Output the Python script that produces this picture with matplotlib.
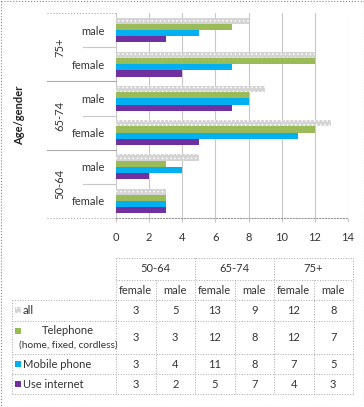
import numpy as np
import matplotlib
matplotlib.use('Agg')
import matplotlib.pyplot as plt
from matplotlib.lines import Line2D
from matplotlib.patches import Rectangle

plt.rcParams['font.family'] = ['Lato', 'DejaVu Sans']
plt.rcParams['hatch.linewidth'] = 0.6

groups = ['50-64', '65-74', '75+']
genders = ['female', 'male']
all_vals = [3, 5, 13, 9, 12, 8]
telephone = [3, 3, 12, 8, 12, 7]
mobile = [3, 4, 11, 8, 7, 5]
internet = [3, 2, 5, 7, 4, 3]

series_names = ['all', 'Telephone\n(home, fixed, cordless)', 'Mobile phone', 'Use internet']
series_vals = [all_vals, telephone, mobile, internet]
colors = ['#d4d4d4', '#9bbb59', '#00b0f0', '#7030a0']
hatches = ['....', None, None, None]

W, H = 364, 407
fig = plt.figure(figsize=(W / 100, H / 100), dpi=100)

# chart axes, placed in pixels
x0, x1, y0, y1 = 116, 348, 13, 218
ax = fig.add_axes([x0 / W, 1 - y1 / H, (x1 - x0) / W, (y1 - y0) / H])

n = len(all_vals)
y = np.arange(n)
bh = 0.18
offsets = [1.5 * bh, 0.5 * bh, -0.5 * bh, -1.5 * bh]
for vals, c, h, off in zip(series_vals, colors, hatches, offsets):
    if h:
        ax.barh(y + off, vals, height=bh, color=c, edgecolor='white', hatch=h, linewidth=0)
    else:
        ax.barh(y + off, vals, height=bh, color=c, linewidth=0)

ax.set_xlim(0, 14)
ax.set_ylim(-0.5, n - 0.5)
ax.set_xticks(range(0, 15, 2))
ax.grid(axis='x', color='#c8c8c8', linewidth=0.8)
ax.set_axisbelow(True)
for s in ['top', 'right', 'left']:
    ax.spines[s].set_visible(False)
ax.spines['bottom'].set_linestyle(':')
ax.spines['bottom'].set_color('#999999')
ax.tick_params(axis='x', length=3, color='#c8c8c8', pad=7, labelsize=8, labelcolor='#333333')
ax.set_yticks(y)
ax.set_yticklabels(genders * len(groups))
ax.tick_params(axis='y', length=0, pad=8, labelsize=8, labelcolor='#333333')

# group separators and group labels
trans = ax.get_yaxis_transform()
for i in range(n + 1):
    yy = i - 0.5
    if i % 2 == 0:
        ax.add_line(Line2D([-69 / 232, 0], [yy, yy], transform=trans, color='#aaaaaa',
                           linewidth=0.8, linestyle=':' if i in (0, n) else '-', clip_on=False))
    else:
        ax.add_line(Line2D([-33 / 232, 0], [yy, yy], transform=trans, color='#c8c8c8',
                           linewidth=0.8, clip_on=False))
for g, name in enumerate(groups):
    ax.text(-56 / 232, 2 * g + 0.5, name, transform=trans, rotation=90, ha='center',
            va='center', fontsize=8, color='#333333')
ax.text(-96 / 232, 2.5, 'Age/gender', transform=trans, rotation=90, ha='center',
        va='center', fontsize=8, fontweight='bold', color='#222222')

# data table below, drawn in pixel coordinates
tx = fig.add_axes([0, 0, 1, 1])
tx.set_xlim(0, W)
tx.set_ylim(H, 0)
tx.axis('off')
tx.patch.set_alpha(0)

lc = '#aaaaaa'
lw = 0.7
cols = np.linspace(116, 353, 7)
rows = [258, 280, 300, 321, 354, 374, 394]
left = 12

def hline(xa, xb, yy):
    tx.plot([xa, xb], [yy, yy], color=lc, linewidth=lw, linestyle=':')

def vline(xx, ya, yb):
    tx.plot([xx, xx], [ya, yb], color=lc, linewidth=lw, linestyle=':')

hline(cols[0], cols[-1], rows[0])
hline(cols[0], cols[-1], rows[1])
for r in rows[2:]:
    hline(left, cols[-1], r)
for k in range(0, 7, 2):
    vline(cols[k], rows[0], rows[-1])
for k in range(1, 7, 2):
    vline(cols[k], rows[1], rows[-1])
vline(left, rows[2], rows[-1])

fs = 8
tc = '#333333'
for g, name in enumerate(groups):
    tx.text((cols[2 * g] + cols[2 * g + 2]) / 2, (rows[0] + rows[1]) / 2, name,
            ha='center', va='center', fontsize=fs, color=tc)
for k in range(6):
    tx.text((cols[k] + cols[k + 1]) / 2, (rows[1] + rows[2]) / 2, genders[k % 2],
            ha='center', va='center', fontsize=fs, color=tc)
for si, (name, vals, c, h) in enumerate(zip(series_names, series_vals, colors, hatches)):
    ym = (rows[2 + si] + rows[3 + si]) / 2
    ytop = rows[2 + si] + 10
    tx.add_patch(Rectangle((15, ytop - 3), 6, 6, facecolor=c, edgecolor='white' if h else c,
                           hatch=h, linewidth=0))
    if '\n' in name:
        a, b = name.split('\n')
        tx.text(68, ytop, a, ha='center', va='center', fontsize=fs, color=tc)
        tx.text(68, ytop + 14, b, ha='center', va='center', fontsize=7.3, color=tc)
    else:
        tx.text(23, ytop, name, ha='left', va='center', fontsize=fs, color=tc)
    for k, v in enumerate(vals):
        tx.text((cols[k] + cols[k + 1]) / 2, ym, str(v), ha='center', va='center',
                fontsize=fs, color=tc)

# dotted outer frame
tx.add_patch(Rectangle((0.5, 0.5), W - 1, H - 1, fill=False, edgecolor='#888888',
                       linestyle=':', linewidth=0.8))

fig.savefig('out.png', dpi=100)
plt.close()
